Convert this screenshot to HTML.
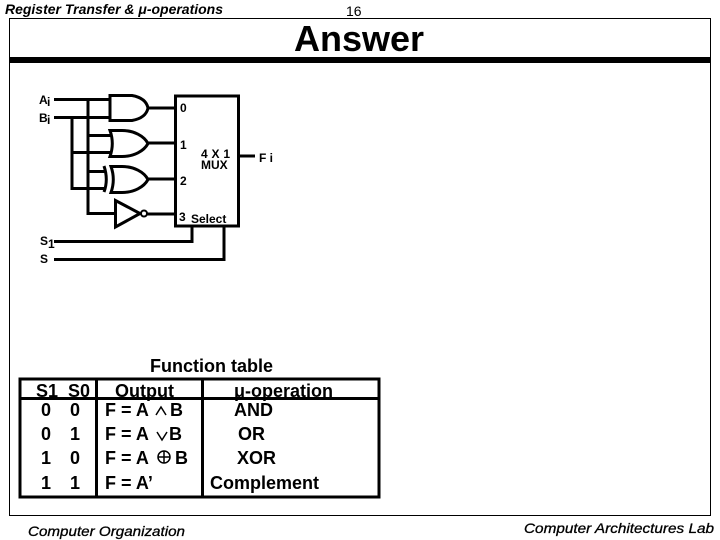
<!DOCTYPE html>
<html><head><meta charset="utf-8"><style>
html,body{margin:0;padding:0;background:#fff}
svg{display:block}
text{font-family:"Liberation Sans",sans-serif;fill:#000}
.b{font-weight:bold}
.t{font-weight:bold;font-size:18px}
.w{fill:none;stroke:#000;stroke-width:3}
</style></head><body>
<svg width="720" height="540" viewBox="0 0 720 540" xmlns="http://www.w3.org/2000/svg">
<rect width="720" height="540" fill="#fff"/>
<text x="5" y="14" font-size="14" font-style="italic" font-weight="bold" textLength="218" lengthAdjust="spacingAndGlyphs">Register Transfer &amp; μ-operations</text>
<text x="346" y="16" font-size="14">16</text>
<rect x="9.5" y="18.5" width="701" height="497" fill="none" stroke="#000" stroke-width="1"/>
<rect x="10" y="57" width="701" height="6" fill="#000"/>
<text x="294" y="51" font-size="36" class="b">Answer</text>

<text x="39" y="104" font-size="12" class="b">A</text><text x="47" y="106" font-size="12" class="b">i</text>
<text x="39" y="122" font-size="12" class="b">B</text><text x="47" y="124" font-size="12" class="b">i</text>
<text x="40" y="245" font-size="12" class="b">S</text><text x="48" y="248" font-size="12" class="b">1</text>
<text x="40" y="263" font-size="12" class="b">S</text>

<path class="w" d="M54 99.5H110M54 117.5H110M72 117V188.5H105M88 99V213.5H115M88 135.5H111M72 152.5H111M88 171.5H106"/>
<path class="w" d="M110 95.5H132Q146 98 148 108Q146 118 132 120.5H110Z"/>
<path class="w" d="M110 130.5H122C134 130.5 144 136 148 143.5C144 151 134 156.5 122 156.5H110C113 148 113 139 110 130.5Z"/>
<path class="w" d="M111 166.5H122C134 166.5 144 172 148 179.5C144 187 134 192.5 122 192.5H111C114 184 114 175 111 166.5Z"/>
<path class="w" stroke-width="2" d="M104 166C107 175 107 184 104 192"/>
<path class="w" d="M115.500 200.500V227L140 213.500Z"/>
<circle cx="144" cy="213.500" r="3" fill="#fff" stroke="#000" stroke-width="2"/>

<path class="w" d="M148 108H175M148 143H175M148 179H175M147 214H175"/>
<rect x="175.500" y="96" width="63" height="130" fill="#fff" stroke="#000" stroke-width="3"/>
<path class="w" d="M239 156H255M54 241.500H192V226M54 259.500H224V226"/>

<text x="180" y="112" font-size="12" class="b">0</text>
<text x="180" y="149" font-size="12" class="b">1</text>
<text x="180" y="185" font-size="12" class="b">2</text>
<text x="179" y="221" font-size="12" class="b">3</text>
<text x="191" y="223" font-size="12" class="b">Select</text>
<text x="201" y="158" font-size="12" class="b" textLength="29" lengthAdjust="spacing">4 X 1</text>
<text x="201" y="169" font-size="12" class="b">MUX</text>
<text x="259" y="162" font-size="12" class="b" textLength="14" lengthAdjust="spacing">F i</text>

<rect x="20" y="379" width="359" height="118" fill="none" stroke="#000" stroke-width="3"/>
<path class="w" d="M20 398.500H379M96.500 379V497M202.500 379V497"/>
<text x="150" y="372" class="t">Function table</text>
<text x="36" y="397" class="t">S1</text><text x="68" y="397" class="t">S0</text>
<text x="115" y="397" class="t">Output</text>
<text x="234" y="397" class="t">μ-operation</text>
<text x="41" y="416" class="t">0</text><text x="70" y="416" class="t">0</text>
<text x="41" y="440" class="t">0</text><text x="70" y="440" class="t">1</text>
<text x="41" y="464" class="t">1</text><text x="70" y="464" class="t">0</text>
<text x="41" y="489" class="t">1</text><text x="70" y="489" class="t">1</text>
<text x="105" y="416" class="t">F = A</text><text x="170" y="416" class="t">B</text>
<path d="M156 415L161 407L166 415" fill="none" stroke="#000" stroke-width="1.500"/>
<text x="105" y="440" class="t">F = A</text><text x="169" y="440" class="t">B</text>
<path d="M157 432L162 440L167 432" fill="none" stroke="#000" stroke-width="1.500"/>
<text x="105" y="464" class="t">F = A</text><text x="175" y="464" class="t">B</text>
<circle cx="164" cy="457" r="6" fill="none" stroke="#000" stroke-width="1.500"/>
<path d="M158 457H170M164 451V463" stroke="#000" stroke-width="1.500"/>
<text x="105" y="489" class="t">F = A’</text>
<text x="234" y="416" class="t">AND</text>
<text x="238" y="440" class="t">OR</text>
<text x="237" y="464" class="t">XOR</text>
<text x="210" y="489" class="t">Complement</text>

<text x="28" y="536" font-size="14" font-style="italic" font-weight="normal" stroke="#000" stroke-width="0.300" textLength="157" lengthAdjust="spacingAndGlyphs">Computer Organization</text>
<text x="524" y="533" font-size="14" font-style="italic" font-weight="normal" stroke="#000" stroke-width="0.300" textLength="190" lengthAdjust="spacingAndGlyphs">Computer Architectures Lab</text>
</svg>
</body></html>
